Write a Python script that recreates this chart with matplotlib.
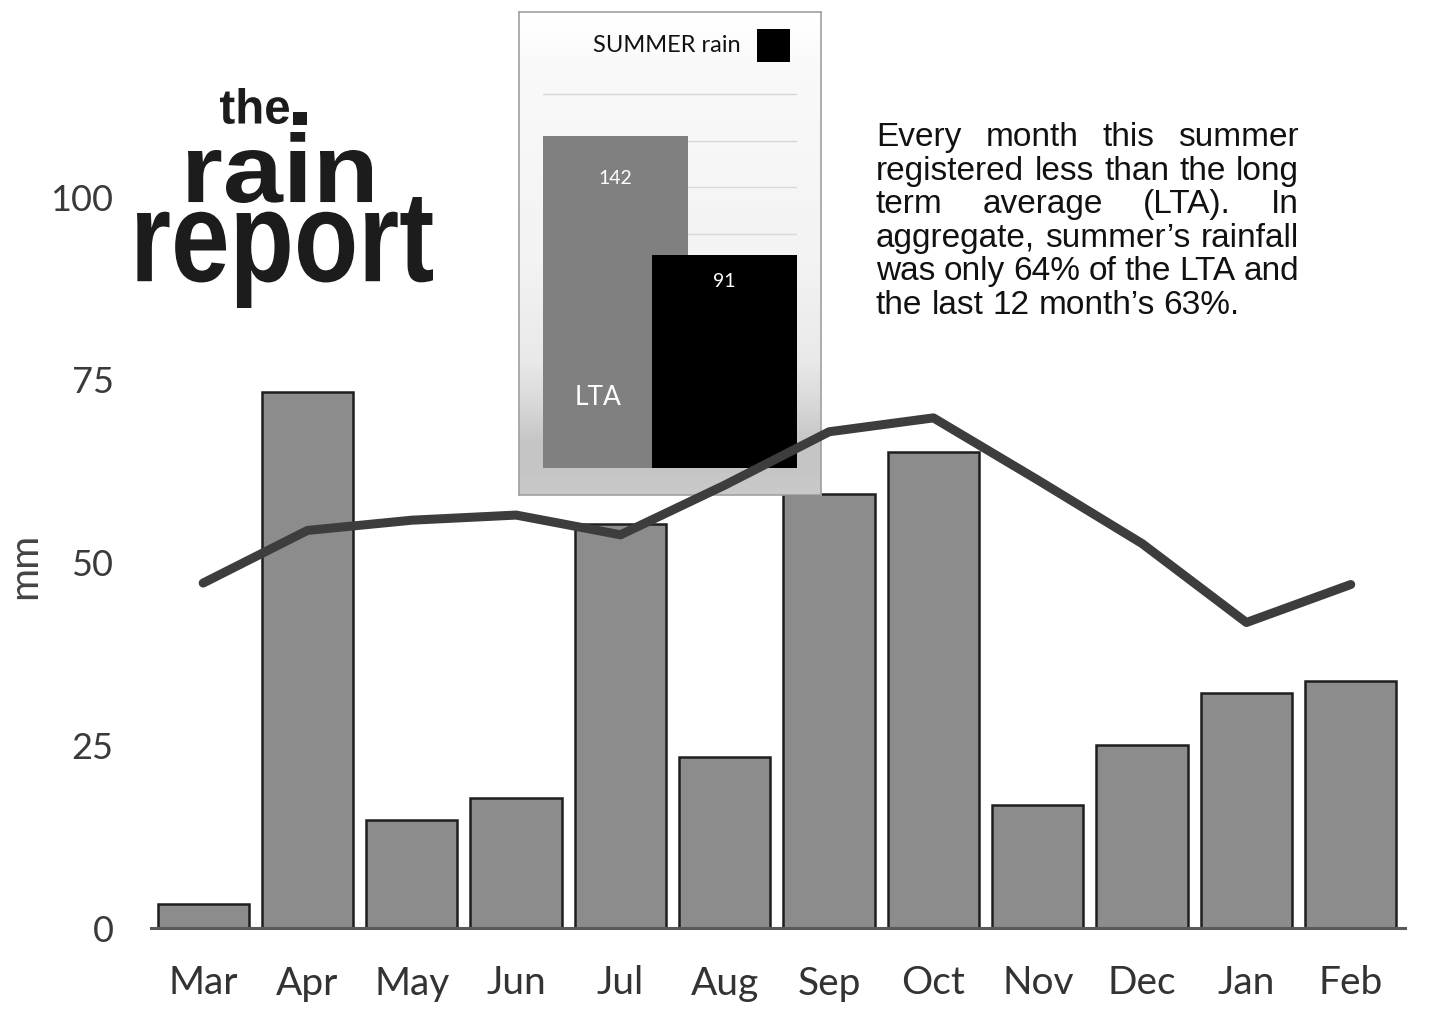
import numpy as np
import matplotlib
import matplotlib.pyplot as plt
from matplotlib.patches import Rectangle, PathPatch
from matplotlib.textpath import TextPath
from matplotlib.font_manager import FontProperties
from matplotlib.transforms import Affine2D

matplotlib.use('Agg')

months = ['Mar', 'Apr', 'May', 'Jun', 'Jul', 'Aug', 'Sep', 'Oct', 'Nov', 'Dec', 'Jan', 'Feb']
rain_mm = [3.3, 73.3, 14.8, 17.8, 55.3, 23.4, 59.4, 65.1, 16.8, 25.1, 32.1, 33.8]
lta_mm = [47.2, 54.4, 55.8, 56.5, 53.8, 60.6, 67.9, 69.8, 61.3, 52.6, 41.8, 47.0]
y_ticks = [0, 25, 50, 75, 100]

summer_labels = ['LTA', 'SUMMER rain']
summer_totals = [142, 91]

note_lines = ['Every month this summer',
              'registered less than the long',
              'term average (LTA). In',
              'aggregate, summer\u2019s rainfall',
              'was only 64% of the LTA and',
              'the last 12 month\u2019s 63%.']

W, H = 1446, 1011
TICK_FONT = 'Lato'


def rect(x0, y0, x1, y1):
    # pixel box (top-left origin) -> figure fraction rect
    return [x0 / W, 1 - y1 / H, (x1 - x0) / W, (y1 - y0) / H]


def fx(x):
    return x / W


def fy(y):
    return 1 - y / H


def logo_word(fig, word, left, top, right, bottom):
    # squeeze a bold word into a pixel box, like the condensed logo lettering
    path = TextPath((0, 0), word, size=1, prop=FontProperties(family='Liberation Sans', weight='bold'))
    ext = path.get_extents()
    tr = (Affine2D().translate(-ext.x0, -ext.y0)
          .scale((right - left) / ext.width, (bottom - top) / ext.height)
          .translate(left, H - bottom))
    fig.patches.append(PathPatch(path, transform=tr, facecolor='#1c1c1c', edgecolor='none', zorder=6))


fig = plt.figure(figsize=(W / 100, H / 100), dpi=100)

# main chart
ax = fig.add_axes(rect(151, 51, 1405, 928), zorder=1)
x = np.arange(len(months))
ax.bar(x, rain_mm, width=0.875, color='#8c8c8c', edgecolor='#1e1e1e', linewidth=1.8)
ax.set_xlim(-0.5, 11.52)
ax.set_ylim(0, 120)
ax.set_yticks(y_ticks)
ax.set_xticks(x)
ax.set_xticklabels(months, fontsize=28, family=TICK_FONT, color='#333333')
ax.set_yticklabels([str(v) for v in y_ticks], fontsize=26, family=TICK_FONT, color='#3a3a3a')
ax.tick_params(axis='y', length=0, pad=27)
ax.tick_params(axis='x', length=0, pad=27)
for s in ['left', 'top', 'right']:
    ax.spines[s].set_visible(False)
ax.spines['bottom'].set_color('#5a5a5a')
ax.spines['bottom'].set_linewidth(2.2)
ax.patch.set_visible(False)
fig.text(fx(25), fy(566), 'mm', rotation=90, fontsize=29, family=TICK_FONT,
         color='#444444', ha='center', va='center')

# inset background with gradient
ax_bg = fig.add_axes(rect(519, 12, 821, 495), zorder=2)
stops_y = [0, 53, 250, 350, 395, 430, 456, 483]
stops_v = [1.0, 0.975, 0.95, 0.91, 0.84, 0.77, 0.77, 0.79]
grad = np.interp(np.arange(483), stops_y, stops_v)[:, None]
ax_bg.imshow(grad, cmap='gray', vmin=0, vmax=1, aspect='auto', extent=(0, 1, 0, 1))
ax_bg.set_xticks([])
ax_bg.set_yticks([])
for s in ax_bg.spines.values():
    s.set_color('#a0a0a0')
    s.set_linewidth(1.2)

# inset bars
ax_in = fig.add_axes(rect(543, 72, 797, 468), zorder=3)
ax_in.patch.set_visible(False)
ax_in.set_axisbelow(True)
ax_in.bar([0, 1], summer_totals, width=1.32, color=['#808080', '#000000'])
ax_in.set_xlim(-0.66, 1.66)
ax_in.set_ylim(0, (468 - 72) / 2.338)
ax_in.set_yticks(np.arange(0, 161, 20))
ax_in.grid(axis='y', color='#d8d8d8', linewidth=1)
ax_in.tick_params(length=0, labelleft=False, labelbottom=False)
for s in ax_in.spines.values():
    s.set_visible(False)
for i, (v, off) in enumerate(zip(summer_totals, [42, 26])):
    ax_in.annotate(str(v), (i, v), xytext=(0, -off), textcoords='offset pixels',
                   ha='center', va='center', color='white', fontsize=14, family=TICK_FONT)
ax_in.text(-0.16, 30, summer_labels[0], ha='center', va='center', color='white',
           fontsize=19, family=TICK_FONT)

fig.text(fx(741), fy(46), summer_labels[1], ha='right', va='center', fontsize=17,
         family=TICK_FONT, color='#111111', zorder=6)
fig.patches.append(Rectangle((fx(757), fy(62)), 33 / W, 33 / H, transform=fig.transFigure,
                             facecolor='black', edgecolor='none', zorder=6))

# LTA line on top of everything
ax_line = fig.add_axes(rect(151, 51, 1405, 928), zorder=4)
ax_line.plot(x, lta_mm, color='#3d3d3d', linewidth=6.5,
             solid_capstyle='round', solid_joinstyle='round')
ax_line.set_xlim(ax.get_xlim())
ax_line.set_ylim(ax.get_ylim())
ax_line.axis('off')

# logo
logo_word(fig, 'the', 220, 88, 289, 124)
fig.patches.append(Rectangle((fx(293), fy(125)), 14 / W, 13 / H, transform=fig.transFigure,
                             facecolor='#1c1c1c', edgecolor='none', zorder=6))
logo_word(fig, 'rain', 188, 132, 372, 203)
logo_word(fig, 'report', 137, 197, 433, 308)

# justified note
fig.canvas.draw()
renderer = fig.canvas.get_renderer()
left, right = 876, 1299
for i, line in enumerate(note_lines):
    words = line.split()
    y = 146 + 33.6 * i
    texts = [fig.text(0, fy(y), w, family='Liberation Sans', fontsize=24, color='#111111',
                      ha='left', va='baseline', zorder=6) for w in words]
    widths = [t.get_window_extent(renderer).width for t in texts]
    if i == len(note_lines) - 1:
        gap = 9
    else:
        gap = (right - left - sum(widths)) / (len(words) - 1)
    pos = left
    for t, w in zip(texts, widths):
        t.set_x(fx(pos))
        pos += w + gap

fig.savefig('out.png', dpi=100, facecolor='white')
